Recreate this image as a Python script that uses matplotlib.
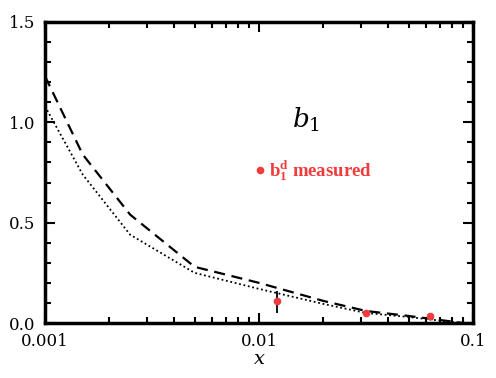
import matplotlib
matplotlib.use("Agg")
import matplotlib.pyplot as plt
from matplotlib.ticker import MultipleLocator, LogLocator, NullFormatter

# Curve data
x_dash = [0.001, 0.0015, 0.0025, 0.005, 0.01, 0.02, 0.0316, 0.05, 0.07, 0.09]
y_dash = [1.23, 0.84, 0.54, 0.28, 0.20, 0.11, 0.06, 0.035, 0.015, 0.0]
x_dot = [0.001, 0.0015, 0.0025, 0.005, 0.01, 0.02, 0.0316, 0.05, 0.07, 0.09]
y_dot = [1.08, 0.74, 0.44, 0.25, 0.17, 0.095, 0.05, 0.03, 0.012, 0.0]

# Measured points
x_meas = [0.0121, 0.0316, 0.063]
y_meas = [0.11, 0.05, 0.035]
err_lo = [0.06, 0.01, 0.0]
err_hi = [0.05, 0.01, 0.0]

xticks = [0.001, 0.01, 0.1]
xticklabels = ["0.001", "0.01", "0.1"]
yticks = [0.0, 0.5, 1.0, 1.5]
yticklabels = ["0.0", "0.5", "1.0", "1.5"]

plt.rcParams['font.family'] = ['DejaVu Serif']
plt.rcParams['mathtext.fontset'] = 'custom'
plt.rcParams['mathtext.rm'] = 'DejaVu Serif'
plt.rcParams['mathtext.it'] = 'DejaVu Serif:italic'
plt.rcParams['mathtext.bf'] = 'Liberation Serif:bold'

fig = plt.figure(figsize=(4.96, 3.78), dpi=100)
ax = fig.add_axes([0.0907, 0.1455, 0.8629, 0.7963])

ax.plot(x_dash, y_dash, color='black', linestyle=(0, (5, 3)), lw=1.6)
ax.plot(x_dot, y_dot, color='black', linestyle=(0, (1, 1.5)), lw=1.3)

ax.errorbar(x_meas, y_meas, yerr=[err_lo, err_hi], fmt='none', ecolor='black',
            elinewidth=1.3, capsize=0, zorder=3)
ax.plot(x_meas, y_meas, 'o', color='#f03c3c', ms=4.5, zorder=4)

ax.set_xscale('log')
ax.set_xlim(0.001, 0.1)
ax.set_ylim(0, 1.5)

ax.set_xticks(xticks)
ax.set_xticklabels(xticklabels)
ax.xaxis.set_minor_locator(LogLocator(base=10, subs=range(2, 10)))
ax.xaxis.set_minor_formatter(NullFormatter())
ax.set_yticks(yticks)
ax.set_yticklabels(yticklabels)
ax.yaxis.set_minor_locator(MultipleLocator(0.1))

ax.tick_params(which='both', direction='in', top=True, right=True, width=1.5,
               labelsize=12, pad=7)
ax.tick_params(which='major', length=7)
ax.tick_params(which='minor', length=4)
for s in ax.spines.values():
    s.set_linewidth(2.5)

ax.set_xlabel('$x$', fontsize=14, labelpad=0)

ax.text(0.61, 0.675, r'$b_{\mathit{1}}$', transform=ax.transAxes, fontsize=19,
        ha='center', va='center')
ax.plot([0.0101], [0.76], 'o', color='#f03c3c', ms=4.5)
ax.text(0.0111, 0.76, r'$\mathbf{b_1^d}$ measured', color='#f03c3c', fontsize=13.5,
        fontweight='bold', va='center', ha='left', family='Liberation Serif')

fig.savefig('out.png', dpi=100)
